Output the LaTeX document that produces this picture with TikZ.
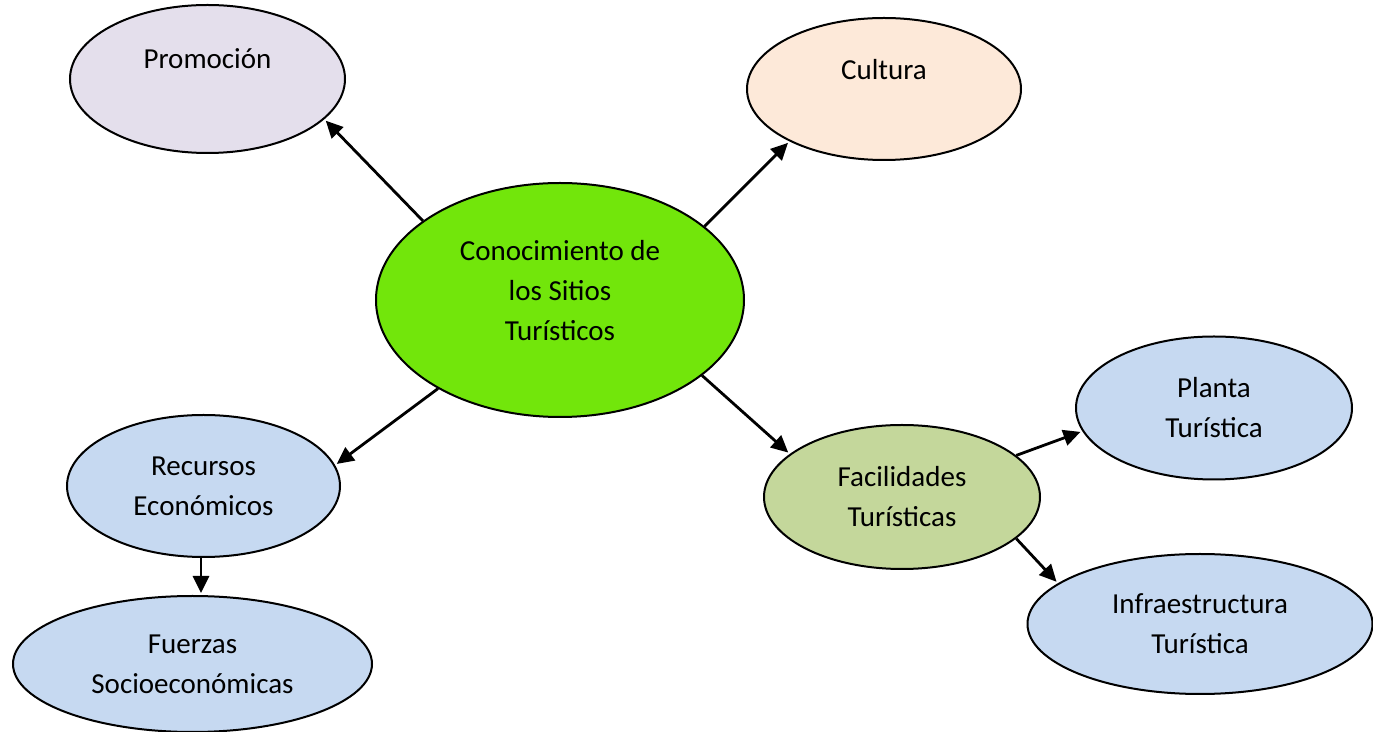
\documentclass[tikz,border=0pt]{standalone}
\usepackage{fontspec}
\setmainfont{Carlito}
\usetikzlibrary{arrows.meta,shapes.geometric}

\definecolor{promolilac}{HTML}{E4DFEC}
\definecolor{culturepeach}{HTML}{FDE9D9}
\definecolor{centergreen}{HTML}{72E60B}
\definecolor{sitesblue}{HTML}{C6D9F1}
\definecolor{facilgreen}{HTML}{C4D79B}

\begin{document}
\begin{tikzpicture}[x=0.5pt,y=-0.5pt,
    bubble/.style={ellipse, draw=black, line width=1pt, inner sep=0pt, align=center,
        font=\fontsize{14.5}{20}\selectfont},
    link/.style={-{Triangle[length=8.5pt,width=8pt]}, line width=1.4pt, shorten >=1pt}]
    % Canvas
    \useasboundingbox (0,0) rectangle (1373,732);

    % Central Bubble
    \node[bubble, fill=centergreen, minimum width=184pt, minimum height=117pt]
        (center) at (560,300) {Conocimiento de\\los Sitios\\Turísticos\\[-10pt]\mbox{}};

    % Top Bubbles
    \node[bubble, fill=promolilac, minimum width=137.5pt, minimum height=74pt]
        (promo) at (207.5,79) {Promoción\\ \mbox{}};
    \node[bubble, fill=culturepeach, minimum width=137pt, minimum height=71pt]
        (culture) at (884,89) {Cultura\\ \mbox{}};

    % -- left side
    \node[bubble, fill=sitesblue, minimum width=136.5pt, minimum height=71pt]
        (resources) at (203.5,486) {Recursos\\Económicos};
    \node[bubble, fill=sitesblue, minimum width=179.5pt, minimum height=68pt]
        (forces) at (192.5,664) {Fuerzas\\Socioeconómicas};

    % -- right side
    \node[bubble, fill=facilgreen, minimum width=138pt, minimum height=72pt]
        (facil) at (902,497) {Facilidades\\Turísticas};
    \node[bubble, fill=sitesblue, minimum width=138pt, minimum height=71.5pt]
        (plant) at (1214,408) {Planta\\Turística};
    \node[bubble, fill=sitesblue, minimum width=172.5pt, minimum height=70pt]
        (infra) at (1200,624) {Infraestructura\\Turística};

    % Arrows
    \draw[link] (center.150) -- (promo.-19);
    \draw[link] (center.27) -- (culture.209);
    \draw[link] (center.216) -- (resources.9);
    \draw[link] (center.-28) -- (facil.159);
    \draw[link] (resources.268) -- (resources.268 |- forces.north);
    \draw[link] (facil.20) -- (plant.190);
    \draw[link] (facil.-20) -- (infra.164);
\end{tikzpicture}
\end{document}
